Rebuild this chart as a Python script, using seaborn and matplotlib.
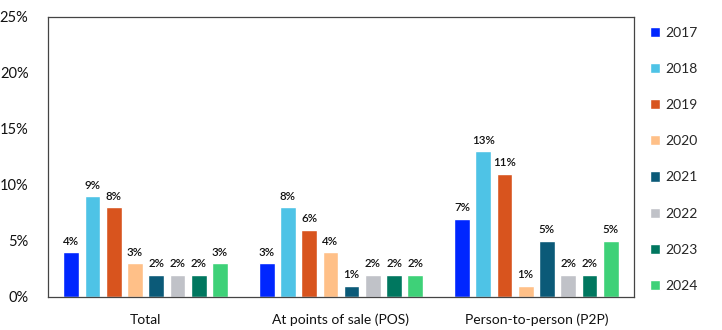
import matplotlib
matplotlib.use("Agg")
import matplotlib.pyplot as plt
import seaborn as sns
import pandas as pd
from matplotlib.ticker import FuncFormatter, FixedLocator

categories = ["Total", "At points of sale (POS)", "Person-to-person (P2P)"]
years = ["2017", "2018", "2019", "2020", "2021", "2022", "2023", "2024"]
v2017 = [4, 3, 7]
v2018 = [9, 8, 13]
v2019 = [8, 6, 11]
v2020 = [3, 4, 1]
v2021 = [2, 1, 5]
v2022 = [2, 2, 2]
v2023 = [2, 2, 2]
v2024 = [3, 2, 5]
colors = ["#0026FF", "#4EC3E6", "#D8541E", "#FFC088", "#0B5A78", "#C0C2C8", "#00775F", "#3ED178"]

series = [v2017, v2018, v2019, v2020, v2021, v2022, v2023, v2024]
rows = []
for y, vals in zip(years, series):
    for c, v in zip(categories, vals):
        rows.append({"category": c, "year": y, "value": v})
df = pd.DataFrame(rows)

sns.set_style("white")
plt.rcParams["font.family"] = ["Lato", "DejaVu Sans"]

fig = plt.figure(figsize=(7.22, 3.30), dpi=100)
ax = fig.add_axes([48/722, 1 - 297/330, (634-48)/722, (297-17)/330])

sns.barplot(data=df, x="category", y="value", hue="year", order=categories,
            hue_order=years, palette=colors, width=0.87, gap=0.26,
            ax=ax, saturation=1, errorbar=None, legend=True)

for cont in ax.containers:
    ax.bar_label(cont, labels=[f"{int(v)}%" for v in cont.datavalues],
                 padding=4, fontsize=8.3, color="#111111", fontweight="semibold")

ax.set_ylim(0, 25)
ax.set_xlim(-0.5, 2.5)
ax.yaxis.set_major_locator(FixedLocator([0, 5, 10, 15, 20, 25]))
ax.yaxis.set_major_formatter(FuncFormatter(lambda v, p: f"{int(v)}%"))
ax.set_xlabel("")
ax.set_ylabel("")
ax.tick_params(axis="y", direction="in", length=4, width=0.8, color="#444444",
               labelsize=10.5, pad=14, colors="#111111")
ax.tick_params(axis="y", color="#444444")
ax.set_xticks([0, 1, 2])
ax.set_xticklabels(categories)
ax.tick_params(axis="x", length=0, labelsize=10, pad=12, colors="#111111")
ax.set_xticks([0.5, 1.5], minor=True)
ax.tick_params(axis="x", which="minor", direction="in", length=4, width=0.8, color="#444444")
for s in ax.spines.values():
    s.set_visible(True)
    s.set_color("#444444")
    s.set_linewidth(0.9)

leg = ax.legend(loc="upper left", bbox_to_anchor=(1.01, 1.0), frameon=False,
                handlelength=0.75, handleheight=0.75, handletextpad=0.4,
                labelspacing=1.74, fontsize=10, borderaxespad=0.3)

fig.savefig("out.png", dpi=100)
